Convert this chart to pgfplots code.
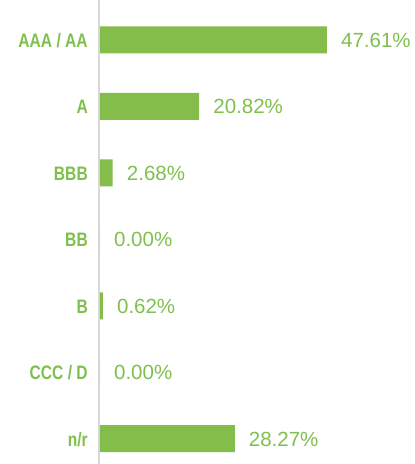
\documentclass[border=0pt]{standalone}
\usepackage{pgfplots}
\pgfplotsset{compat=1.18}
\usetikzlibrary{calc}
\usepackage{fontspec}
\setmainfont{Liberation Sans}
\newfontfamily\catfont[FakeStretch=0.8]{Liberation Sans}
\definecolor{bargreen}{HTML}{84BD4A}
\definecolor{txtgreen}{HTML}{7FBF4D}
\definecolor{axisgray}{HTML}{D9D9D9}
\begin{document}
\begin{tikzpicture}
\begin{axis}[
  name=ax,
  x=4.77bp, y=66.5bp, y dir=reverse,
  xmin=-0.21, xmax=65, ymin=-0.6, ymax=6.38,
  xbar, bar width=27bp, bar shift=0pt,
  axis x line=none, axis y line*=left,
  axis line style={draw=axisgray, line width=2bp},
  ytick={0,1,2,3,4,5,6},
  yticklabels={AAA / AA, A, BBB, BB, B, CCC / D, n/r},
  ytick style={draw=none}, major tick length=0pt,
  yticklabel style={font=\catfont\bfseries\fontsize{19.5bp}{22bp}\selectfont, text=txtgreen, anchor=base east, inner sep=0pt, xshift=-11bp, yshift=-7.5bp},
  point meta=x,
  nodes near coords={\pgfmathprintnumber[fixed,zerofill,precision=2,assume math mode=true]{\pgfplotspointmeta}\%},
  nodes near coords style={font=\fontsize{20.5bp}{24bp}\selectfont, text=txtgreen, anchor=base west, inner sep=0pt, xshift=14bp, yshift=-7.3bp},
  clip=false,
]
\addplot[fill=bargreen, draw=none] coordinates {
  (47.61,0) (20.82,1) (2.68,2) (0.00,3) (0.62,4) (0.00,5) (28.27,6)
};
\end{axis}
\pgfresetboundingbox
\path (ax.north west) ++(-99bp,0) rectangle ($(ax.south west)+(316bp,0)$);
\end{tikzpicture}
\end{document}
